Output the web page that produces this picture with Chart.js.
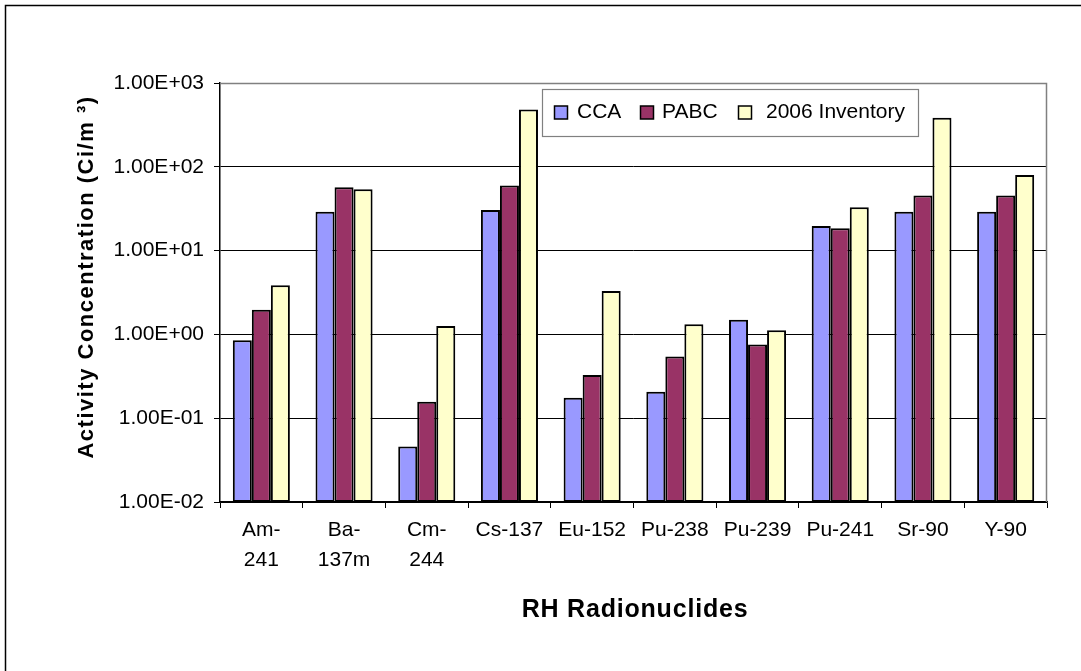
<!DOCTYPE html>
<html>
<head>
<meta charset="utf-8">
<script src="https://cdn.jsdelivr.net/npm/chart.js@4"></script>
<style>
  html, body { margin: 0; padding: 0; background: #fff; }
  #wrap { width: 1081px; height: 671px; position: relative; }
</style>
</head>
<body>
<div id="wrap"><canvas id="c" width="1081" height="671"></canvas></div>
<script>
// ---- data ----
const categories = [['Am-', '241'], ['Ba-', '137m'], ['Cm-', '244'], 'Cs-137', 'Eu-152', 'Pu-238', 'Pu-239', 'Pu-241', 'Sr-90', 'Y-90'];
const seriesNames = ['CCA', 'PABC', '2006 Inventory'];
const ccaValues = [0.85, 29, 0.046, 30.5, 0.175, 0.207, 1.5, 19.7, 29, 29];
const pabcValues = [1.97, 57, 0.157, 60, 0.327, 0.546, 0.76, 18.5, 45.4, 45.4];
const inventoryValues = [3.85, 54, 1.26, 484, 3.3, 1.32, 1.12, 32.9, 385, 80];
const yTickValues = [0.01, 0.1, 1, 10, 100, 1000];
const yTitle = 'Activity Concentration (Ci/m \u00B3)';
const xTitle = 'RH Radionuclides';

const colors = ['#9999FF', '#993366', '#FFFFCC'];
const FONT = "'Liberation Sans', Arial, sans-serif";

function fmtExp(v) {
  const s = v.toExponential(2); // e.g. 1.00e+3
  const m = s.match(/^(-?[\d.]+)e([+-])(\d+)$/);
  let e = m[3];
  if (e.length < 2) e = '0' + e;
  return m[1] + 'E' + m[2] + e;
}

const decorPlugin = {
  id: 'decor',
  afterDraw(chart) {
    const ctx = chart.ctx;
    const ca = chart.chartArea;
    ctx.save();
    // plot area top/right border (gray)
    ctx.strokeStyle = '#808080';
    ctx.lineWidth = 1.5;
    ctx.beginPath();
    ctx.moveTo(ca.left, ca.top + 0.5);
    ctx.lineTo(ca.right - 0.5, ca.top + 0.5);
    ctx.lineTo(ca.right - 0.5, ca.bottom);
    ctx.stroke();
    // outer frame
    ctx.strokeStyle = '#000';
    ctx.lineWidth = 1.5;
    ctx.strokeRect(5.5, 5.5, 1200, 1200);
    // axis titles
    ctx.fillStyle = '#000';
    ctx.textAlign = 'center';
    ctx.textBaseline = 'middle';
    ctx.font = 'bold 25px ' + FONT;
    ctx.letterSpacing = '0.8px';
    ctx.fillText(xTitle, 635, 610);
    ctx.translate(87, 277);
    ctx.rotate(-Math.PI / 2);
    ctx.font = 'bold 22px ' + FONT;
    ctx.letterSpacing = '1.5px';
    ctx.fillText(yTitle, 0, 0);
    ctx.restore();

    // legend
    ctx.save();
    const lx = 542.5, ly = 89.5, lw = 376, lh = 47;
    ctx.fillStyle = '#fff';
    ctx.fillRect(lx, ly, lw, lh);
    ctx.strokeStyle = '#808080';
    ctx.lineWidth = 1.2;
    ctx.strokeRect(lx, ly, lw, lh);
    const sqX = [554.5, 640.5, 738.5];
    const txX = [577, 662, 766];
    ctx.font = '21px ' + FONT;
    ctx.textBaseline = 'middle';
    ctx.textAlign = 'left';
    chart.data.datasets.forEach((ds, i) => {
      ctx.fillStyle = ds.backgroundColor;
      ctx.fillRect(sqX[i], 106, 13, 13);
      ctx.strokeStyle = '#000';
      ctx.lineWidth = 1.5;
      ctx.strokeRect(sqX[i], 106, 13, 13);
      ctx.fillStyle = '#000';
      ctx.fillText(ds.label, txX[i], 112);
    });
    ctx.restore();
  }
};

new Chart(document.getElementById('c'), {
  type: 'bar',
  data: {
    labels: categories,
    datasets: [
      { label: seriesNames[0], data: ccaValues, backgroundColor: colors[0] },
      { label: seriesNames[1], data: pabcValues, backgroundColor: colors[1] },
      { label: seriesNames[2], data: inventoryValues, backgroundColor: colors[2] }
    ]
  },
  options: {
    responsive: false,
    animation: false,
    devicePixelRatio: 1,
    layout: { padding: { top: 83, right: 34, bottom: 0, left: 0 } },
    datasets: {
      bar: {
        categoryPercentage: 0.69,
        barPercentage: 1.0,
        borderColor: '#000',
        borderWidth: 2,
        borderSkipped: false
      }
    },
    plugins: {
      legend: { display: false },
      tooltip: { enabled: false },
      title: { display: false }
    },
    scales: {
      x: {
        grid: {
          drawOnChartArea: false,
          drawTicks: true,
          tickLength: 6,
          color: '#000',
          lineWidth: 1
        },
        border: { color: '#000', width: 1.5 },
        ticks: {
          color: '#000',
          font: { family: FONT, size: 21, lineHeight: 1.4 },
          padding: 8,
          maxRotation: 0,
          minRotation: 0,
          autoSkip: false
        },
        afterFit(scale) { scale.height = 169; }
      },
      y: {
        type: 'logarithmic',
        min: 0.01,
        max: 1000,
        afterBuildTicks(scale) {
          scale.ticks = yTickValues.map(v => ({ value: v, major: true }));
        },
        grid: {
          color: (c) => (c.tick && c.tick.value === 1000 ? '#808080' : '#000'),
          tickColor: '#000',
          lineWidth: 1,
          tickLength: 6
        },
        border: { color: '#000', width: 1.5 },
        ticks: {
          color: '#000',
          font: { family: FONT, size: 21 },
          padding: 10,
          callback: (v) => fmtExp(v)
        },
        afterFit(scale) { scale.width = 220; }
      }
    }
  },
  plugins: [decorPlugin]
});
</script>
</body>
</html>
